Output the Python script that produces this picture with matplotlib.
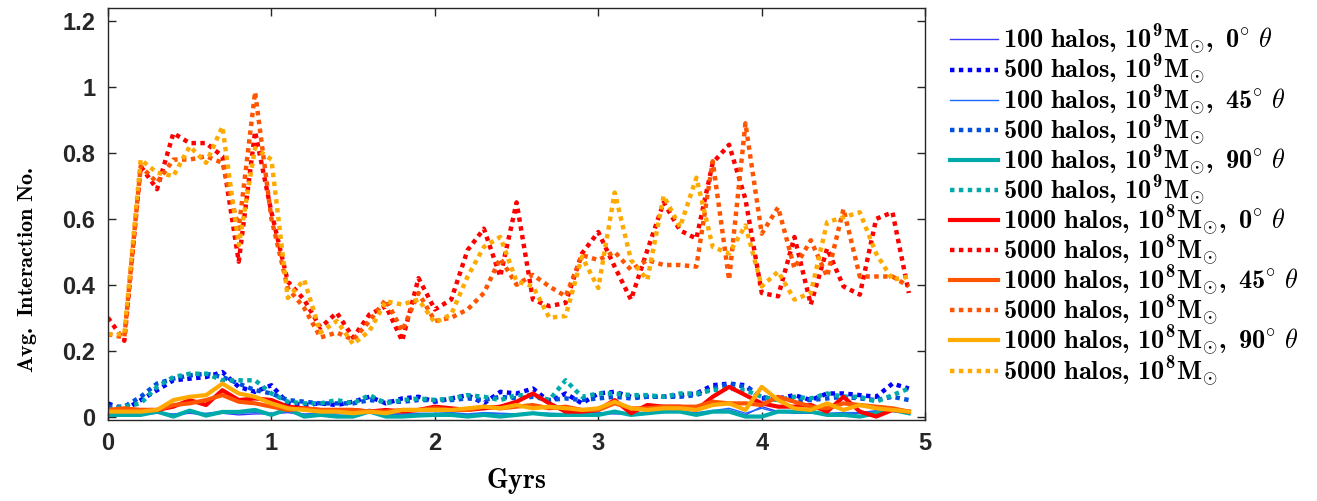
import numpy as np
import matplotlib
matplotlib.use('Agg')
import matplotlib.pyplot as plt

# Computer Modern look for the labels, with a bold roman face
plt.rcParams['mathtext.fontset'] = 'custom'
plt.rcParams['mathtext.rm'] = 'cmr10'
plt.rcParams['mathtext.bf'] = 'cmb10'
plt.rcParams['mathtext.it'] = 'cmmi10'
plt.rcParams['mathtext.fallback'] = 'cm'

# time axis (Gyr), 0.1 Gyr steps
t = np.round(np.arange(0, 5.0, 0.1), 1)

# --- 10^9 Msun runs
halo9_0_100 = [0.005, 0.005, 0.005, 0.01, 0.005, 0.01, 0.005, 0.01, 0.005, 0.008,
               0.008, 0.012, 0.005, 0.005, 0.008, 0.01, 0.022, 0.008, 0.005, 0.005,
               0.008, 0.01, 0.005, 0.01, 0.008, 0.005, 0.01, 0.008, 0.005, 0.01,
               0.01, 0.008, 0.008, 0.01, 0.012, 0.015, 0.01, 0.015, 0.02, 0.005,
               0.03, 0.015, 0.01, 0.01, 0.008, 0.01, 0.01, 0.015, 0.02, 0.012]
halo9_0_500 = [0.04, 0.02, 0.05, 0.08, 0.11, 0.115, 0.12, 0.135, 0.09, 0.075,
               0.095, 0.04, 0.035, 0.04, 0.035, 0.045, 0.06, 0.04, 0.055, 0.06,
               0.045, 0.055, 0.065, 0.04, 0.075, 0.07, 0.085, 0.045, 0.07, 0.04,
               0.07, 0.075, 0.06, 0.06, 0.06, 0.065, 0.07, 0.095, 0.10, 0.095,
               0.055, 0.055, 0.065, 0.05, 0.07, 0.07, 0.065, 0.06, 0.10, 0.085]
halo9_45_100 = [0.008, 0.01, 0.008, 0.012, 0.008, 0.012, 0.01, 0.015, 0.01, 0.012,
                0.01, 0.015, 0.008, 0.01, 0.012, 0.01, 0.018, 0.01, 0.008, 0.01,
                0.01, 0.012, 0.008, 0.012, 0.01, 0.008, 0.012, 0.01, 0.008, 0.012,
                0.012, 0.01, 0.01, 0.012, 0.015, 0.015, 0.012, 0.018, 0.025, 0.01,
                0.025, 0.012, 0.012, 0.015, 0.01, 0.012, 0.012, 0.018, 0.015, 0.012]
halo9_45_500 = [0.03, 0.03, 0.06, 0.10, 0.115, 0.125, 0.13, 0.12, 0.10, 0.08,
                0.07, 0.05, 0.045, 0.04, 0.04, 0.04, 0.05, 0.045, 0.045, 0.05,
                0.05, 0.05, 0.055, 0.05, 0.06, 0.055, 0.06, 0.05, 0.055, 0.05,
                0.055, 0.06, 0.055, 0.06, 0.06, 0.06, 0.065, 0.085, 0.10, 0.09,
                0.06, 0.05, 0.05, 0.05, 0.055, 0.06, 0.055, 0.05, 0.06, 0.05]
halo9_90_100 = [0.005, 0.005, 0.005, 0.015, 0.0, 0.018, 0.003, 0.014, 0.014, 0.02,
                0.005, 0.023, 0.0, 0.005, 0.0, 0.0, 0.015, 0.0, 0.0, 0.003,
                0.005, 0.005, 0.0, 0.005, 0.0, 0.005, 0.01, 0.005, 0.005, 0.005,
                0.005, 0.015, 0.005, 0.01, 0.015, 0.015, 0.005, 0.015, 0.015, 0.0,
                0.0, 0.015, 0.015, 0.015, 0.005, 0.005, 0.0, 0.01, 0.02, 0.01]
halo9_90_500 = [0.02, 0.03, 0.04, 0.09, 0.12, 0.13, 0.13, 0.11, 0.11, 0.11,
                0.07, 0.045, 0.04, 0.04, 0.05, 0.04, 0.065, 0.04, 0.05, 0.055,
                0.05, 0.055, 0.065, 0.06, 0.05, 0.065, 0.065, 0.05, 0.11, 0.06,
                0.07, 0.07, 0.065, 0.065, 0.06, 0.07, 0.07, 0.08, 0.085, 0.08,
                0.06, 0.05, 0.06, 0.055, 0.07, 0.06, 0.06, 0.045, 0.065, 0.085]

# --- 10^8 Msun runs
halo8_0_1000 = [0.02, 0.02, 0.02, 0.02, 0.03, 0.05, 0.035, 0.08, 0.05, 0.055,
                0.05, 0.03, 0.025, 0.02, 0.02, 0.02, 0.015, 0.02, 0.015, 0.02,
                0.03, 0.025, 0.02, 0.025, 0.03, 0.045, 0.07, 0.04, 0.015, 0.015,
                0.02, 0.05, 0.01, 0.035, 0.03, 0.03, 0.02, 0.06, 0.09, 0.065,
                0.04, 0.03, 0.03, 0.035, 0.015, 0.06, 0.015, 0.0, 0.02, 0.015]
halo8_0_5000 = [0.30, 0.23, 0.76, 0.69, 0.86, 0.83, 0.83, 0.79, 0.47, 0.865,
                0.62, 0.41, 0.355, 0.27, 0.315, 0.24, 0.31, 0.335, 0.23, 0.42,
                0.325, 0.355, 0.505, 0.57, 0.425, 0.65, 0.355, 0.335, 0.345, 0.495,
                0.56, 0.455, 0.355, 0.505, 0.65, 0.565, 0.54, 0.77, 0.825, 0.66,
                0.375, 0.365, 0.545, 0.34, 0.51, 0.395, 0.37, 0.60, 0.62, 0.375]
halo8_45_1000 = [0.02, 0.025, 0.02, 0.02, 0.035, 0.04, 0.05, 0.065, 0.045, 0.04,
                 0.03, 0.02, 0.025, 0.02, 0.02, 0.02, 0.015, 0.015, 0.02, 0.02,
                 0.025, 0.02, 0.02, 0.03, 0.025, 0.03, 0.035, 0.025, 0.03, 0.02,
                 0.02, 0.04, 0.025, 0.025, 0.03, 0.03, 0.03, 0.045, 0.04, 0.04,
                 0.035, 0.06, 0.045, 0.03, 0.025, 0.04, 0.035, 0.03, 0.025, 0.015]
halo8_45_5000 = [0.25, 0.24, 0.76, 0.71, 0.78, 0.78, 0.79, 0.77, 0.57, 0.985,
                 0.60, 0.39, 0.33, 0.24, 0.255, 0.233, 0.29, 0.355, 0.26, 0.375,
                 0.29, 0.30, 0.325, 0.375, 0.48, 0.40, 0.43, 0.395, 0.365, 0.49,
                 0.475, 0.50, 0.445, 0.475, 0.46, 0.46, 0.455, 0.775, 0.415, 0.89,
                 0.555, 0.635, 0.45, 0.535, 0.425, 0.63, 0.425, 0.425, 0.425, 0.395]
halo8_90_1000 = [0.015, 0.015, 0.015, 0.02, 0.05, 0.06, 0.065, 0.10, 0.07, 0.06,
                 0.04, 0.025, 0.02, 0.015, 0.015, 0.01, 0.015, 0.01, 0.02, 0.02,
                 0.02, 0.02, 0.025, 0.03, 0.025, 0.035, 0.025, 0.03, 0.025, 0.02,
                 0.025, 0.045, 0.025, 0.02, 0.025, 0.025, 0.02, 0.035, 0.04, 0.02,
                 0.09, 0.05, 0.025, 0.02, 0.04, 0.02, 0.035, 0.025, 0.02, 0.015]
halo8_90_5000 = [0.25, 0.25, 0.78, 0.74, 0.73, 0.82, 0.77, 0.88, 0.52, 0.815,
                 0.78, 0.36, 0.415, 0.255, 0.29, 0.22, 0.26, 0.35, 0.34, 0.355,
                 0.285, 0.31, 0.425, 0.515, 0.545, 0.41, 0.395, 0.30, 0.305, 0.485,
                 0.39, 0.68, 0.475, 0.415, 0.67, 0.575, 0.725, 0.515, 0.495, 0.58,
                 0.395, 0.44, 0.355, 0.375, 0.59, 0.605, 0.62, 0.495, 0.415, 0.425]

series = [halo9_0_100, halo9_0_500, halo9_45_100, halo9_45_500, halo9_90_100, halo9_90_500,
          halo8_0_1000, halo8_0_5000, halo8_45_1000, halo8_45_5000, halo8_90_1000, halo8_90_5000]

labels = [
    r'$\mathbf{100\ halos,\,10^{9}M_{\odot},\ 0^{\circ}}\ \theta$',
    r'$\mathbf{500\ halos,\,10^{9}M_{\odot}}$',
    r'$\mathbf{100\ halos,\,10^{9}M_{\odot},\ 45^{\circ}}\ \theta$',
    r'$\mathbf{500\ halos,\,10^{9}M_{\odot}}$',
    r'$\mathbf{100\ halos,\,10^{9}M_{\odot},\ 90^{\circ}}\ \theta$',
    r'$\mathbf{500\ halos,\,10^{9}M_{\odot}}$',
    r'$\mathbf{1000\ halos,\,10^{8}M_{\odot},\ 0^{\circ}}\ \theta$',
    r'$\mathbf{5000\ halos,\,10^{8}M_{\odot}}$',
    r'$\mathbf{1000\ halos,\,10^{8}M_{\odot},\ 45^{\circ}}\ \theta$',
    r'$\mathbf{5000\ halos,\,10^{8}M_{\odot}}$',
    r'$\mathbf{1000\ halos,\,10^{8}M_{\odot},\ 90^{\circ}}\ \theta$',
    r'$\mathbf{5000\ halos,\,10^{8}M_{\odot}}$',
]

colors = ['#3a3aff', '#0000ff', '#1a6aff', '#0050e0', '#00aaaa', '#00aaaa',
          '#ff0000', '#ff0000', '#ff5500', '#ff5500', '#ffaa00', '#ffaa00']
widths = [1.0, 3.2, 1.0, 3.2, 3.0, 3.2, 3.0, 3.2, 3.0, 3.2, 3.0, 3.2]
dotted = (0, (1, 1))
styles = ['-', dotted] * 6

fig = plt.figure(figsize=(13.17, 5.01), dpi=100)
ax = fig.add_axes([0.082, 0.162, 0.6205, 0.822])

for y, lab, c, w, ls in zip(series, labels, colors, widths, styles):
    ax.plot(t, y, color=c, lw=w, ls=ls, label=lab)

ax.set_xlim(0, 5)
ax.set_ylim(-0.01, 1.24)
ax.set_xticks([0, 1, 2, 3, 4, 5])
ax.set_yticks([0, 0.2, 0.4, 0.6, 0.8, 1.0, 1.2])
ax.set_yticklabels(['0', '0.2', '0.4', '0.6', '0.8', '1', '1.2'])
ax.tick_params(direction='in', top=True, right=True, length=6, width=1,
               colors='#262626', pad=9)
for lbl in ax.get_xticklabels() + ax.get_yticklabels():
    lbl.set_fontfamily('Liberation Sans')
    lbl.set_fontweight('bold')
    lbl.set_fontsize(17)
for sp in ax.spines.values():
    sp.set_color('#262626')
    sp.set_linewidth(1)

ax.set_xlabel(r'$\mathbf{Gyrs}$', fontsize=20)
ax.xaxis.set_label_coords(0.5, -0.112)
ax.set_ylabel(r'$\mathbf{Avg.\ Interaction\ No.}$', fontsize=16)
ax.yaxis.set_label_coords(-0.085, 0.365)

ax.legend(loc='upper left', bbox_to_anchor=(950 / 1317, 1 - 23 / 501),
          bbox_transform=fig.transFigure, frameon=False, fontsize=19,
          handlelength=1.8, handletextpad=0.2, labelspacing=-0.16,
          borderpad=0, borderaxespad=0)

fig.savefig('out.png', dpi=100)
